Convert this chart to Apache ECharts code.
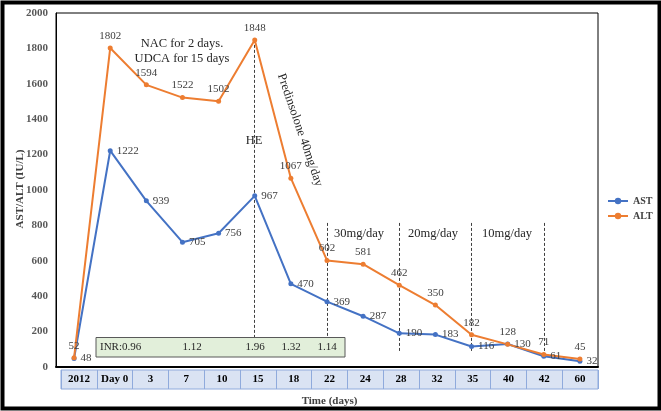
<!DOCTYPE html>
<html><head><meta charset="utf-8">
<script src="https://cdn.jsdelivr.net/npm/echarts@6/dist/echarts.min.js"></script>
<style>html,body{margin:0;padding:0;background:#fff}#c{width:661px;height:411px}</style>
</head><body><div id="c"></div>
<script>
const categories = ['2012','Day 0','3','7','10','15','18','22','24','28','32','35','40','42','60'];
const astValues = [48,1222,939,705,756,967,470,369,287,190,183,116,130,61,32];
const altValues = [52,1802,1594,1522,1502,1848,1067,602,581,462,350,182,128,71,45];
const yTicks = {min:0, max:2000, interval:200};
const inrLabels = ['INR:0.96','1.12','1.96','1.32','1.14'];
const doseLabels = ['30mg/day','20mg/day','10mg/day'];
const heLine = '15';
const doseLines = ['22','28','35','42'];

const SERIF = '"Liberation Serif","DejaVu Serif",serif';
const chart = echarts.init(document.getElementById('c'), null, {renderer:'canvas'});

const mlData = [];
mlData.push([{coord:[categories.indexOf(heLine), altValues[categories.indexOf(heLine)]]},{coord:[categories.indexOf(heLine),85]}]);
doseLines.forEach(d => mlData.push([{coord:[categories.indexOf(d),814]},{coord:[categories.indexOf(d),85]}]));

const annText = (x,y,t,extra) => Object.assign({type:'text', x:x, y:y, z:10,
  style:{text:t, font:'12.5px '+SERIF, fill:'#262626', align:'center', verticalAlign:'middle'}}, extra||{});

chart.setOption({
  animation:false,
  backgroundColor:'#fff',
  grid:[
    {left:56, right:63, top:13, bottom:44, show:true, borderColor:'#000', borderWidth:1, backgroundColor:'transparent', outerBoundsMode:'none', containLabel:false},
    {left:61, right:63, top:370, height:19, show:true, borderColor:'#8faadc', borderWidth:1, backgroundColor:'#dae3f3', outerBoundsMode:'none', containLabel:false}
  ],
  legend:{orient:'vertical', left:602, top:191, itemWidth:20, itemHeight:8, itemGap:5,
    textStyle:{fontFamily:SERIF, fontWeight:'bold', fontSize:10, color:'#404040'},
    data:['AST','ALT']},
  xAxis:[
    {type:'category', gridIndex:0, data:categories, boundaryGap:true,
     axisLine:{show:true, lineStyle:{color:'#000', width:2}}, axisTick:{show:false}, axisLabel:{show:false}},
    {type:'category', gridIndex:1, data:categories, boundaryGap:true, position:'bottom',
     axisLine:{show:false}, axisTick:{show:false},
     splitLine:{show:true, interval:0, lineStyle:{color:'#8faadc', width:1}},
     axisLabel:{interval:0, margin:-15, fontFamily:SERIF, fontWeight:'bold', fontSize:11, color:'#000'},
     name:'Time (days)', nameLocation:'middle', nameGap:7,
     nameTextStyle:{fontFamily:SERIF, fontWeight:'bold', fontSize:11, color:'#404040'}}
  ],
  yAxis:[
    {type:'value', gridIndex:0, min:yTicks.min, max:yTicks.max, interval:yTicks.interval,
     axisLine:{show:true, lineStyle:{color:'#000', width:1}}, axisTick:{show:false}, splitLine:{show:false},
     axisLabel:{margin:8, fontFamily:SERIF, fontWeight:'bold', fontSize:11, color:'#595959', formatter:v => String(v)}},
    {type:'value', gridIndex:1, show:false}
  ],
  series:[
    {name:'AST', type:'line', xAxisIndex:0, yAxisIndex:0, data:astValues,
     color:'#4472C4', lineStyle:{width:2, color:'#4472C4'}, symbol:'circle', symbolSize:5,
     itemStyle:{color:'#4472C4'},
     label:{show:true, position:'right', distance:4, fontFamily:SERIF, fontSize:11, color:'#404040'}},
    {name:'ALT', type:'line', xAxisIndex:0, yAxisIndex:0, data:altValues,
     color:'#ED7D31', lineStyle:{width:2, color:'#ED7D31'}, symbol:'circle', symbolSize:5,
     itemStyle:{color:'#ED7D31'},
     label:{show:true, position:'top', distance:4, fontFamily:SERIF, fontSize:11, color:'#404040'},
     markLine:{silent:true, symbol:'none', label:{show:false}, z:1,
       lineStyle:{type:[3,2], color:'#404040', width:1}, data:mlData}}
  ],
  graphic:[
    {type:'rect', left:0, top:0, z:-1, shape:{x:1.5,y:1.5,width:657,height:406}, style:{fill:'none', stroke:'#000', lineWidth:4}},
    {type:'text', z:10, x:20, y:189, rotation:Math.PI/2,
     style:{text:'AST/ALT (IU/L)', font:'bold 11px '+SERIF, fill:'#404040', align:'center', verticalAlign:'middle'}},
    {type:'rect', z:5, shape:{x:96, y:337.5, width:249, height:19.5}, style:{fill:'#e2efda', stroke:'#595959', lineWidth:1}},
    {type:'text', z:10, x:100, y:347, style:{text:inrLabels[0], font:'11px '+SERIF, fill:'#262626', align:'left', verticalAlign:'middle'}},
    {type:'text', z:10, x:192, y:347, style:{text:inrLabels[1], font:'11px '+SERIF, fill:'#262626', align:'center', verticalAlign:'middle'}},
    {type:'text', z:10, x:255, y:347, style:{text:inrLabels[2], font:'11px '+SERIF, fill:'#262626', align:'center', verticalAlign:'middle'}},
    {type:'text', z:10, x:291, y:347, style:{text:inrLabels[3], font:'11px '+SERIF, fill:'#262626', align:'center', verticalAlign:'middle'}},
    {type:'text', z:10, x:327, y:347, style:{text:inrLabels[4], font:'11px '+SERIF, fill:'#262626', align:'center', verticalAlign:'middle'}},
    annText(182, 44, 'NAC for 2 days.'),
    annText(182, 59, 'UDCA for 15 days'),
    annText(254, 141, 'HE'),
    annText(300, 130, 'Predinsolone 40mg/day', {rotation:-1.24}),
    annText(359, 234, doseLabels[0]),
    annText(433, 234, doseLabels[1]),
    annText(507, 234, doseLabels[2])
  ]
});
</script></body></html>
